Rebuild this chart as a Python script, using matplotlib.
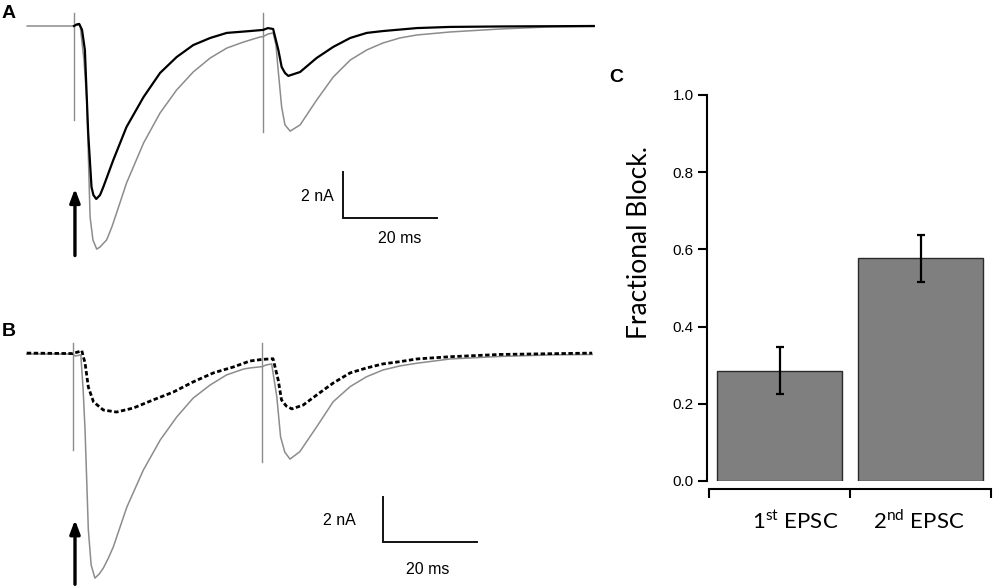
"""Paired-pulse EPSC traces (A, B) and fractional block bar chart (C)."""
import matplotlib
matplotlib.use('Agg')
import matplotlib.pyplot as plt

plt.rcParams['font.family'] = ['Liberation Sans', 'DejaVu Sans']
plt.rcParams['mathtext.fontset'] = 'custom'
plt.rcParams['mathtext.rm'] = 'Lato'

# ---- panel A traces (time in ms, current in nA) ----
a_ctrl_t = [-9.9, -0.2, 0.6, 1.3, 2.1, 2.7, 3.4, 4.0, 4.8, 5.5, 6.9, 8.0, 9.0,
            11.1, 14.7, 18.2, 21.7, 25.2, 28.8, 32.3, 35.8, 39.3, 40.0, 41.0,
            42.1, 42.7, 43.1, 43.9, 44.6, 45.7, 47.8, 51.3, 54.8, 58.4, 61.9,
            65.3, 68.9, 72.5, 79.5, 90.1, 100.6, 109.9]
a_ctrl_i = [0.0, 0.0, 0.04, 0.04, -1.48, -3.22, -8.30, -9.30, -9.70, -9.61,
            -9.30, -8.74, -8.13, -6.83, -5.09, -3.78, -2.78, -2.00, -1.39,
            -0.96, -0.70, -0.48, -0.46, -0.35, -0.30, -0.83, -1.78, -3.52,
            -4.30, -4.57, -4.30, -3.22, -2.22, -1.48, -1.04, -0.74, -0.52,
            -0.39, -0.26, -0.13, -0.04, -0.02]
a_drug_t = [0.0, 0.6, 1.1, 1.7, 2.3, 3.0, 3.7, 4.1, 4.7, 5.5, 6.2, 8.3, 11.1,
            14.7, 18.2, 21.7, 25.2, 28.8, 32.3, 37.2, 40.0, 41.0, 42.1, 43.2,
            43.9, 44.6, 45.3, 47.8, 51.3, 54.8, 58.4, 61.9, 65.3, 72.5, 79.5,
            90.1, 109.9]
a_drug_i = [0.0, 0.07, 0.09, -0.17, -1.04, -4.65, -7.00, -7.35, -7.52, -7.35,
            -7.00, -5.83, -4.39, -3.09, -2.04, -1.35, -0.83, -0.52, -0.30,
            -0.22, -0.17, -0.09, -0.13, -1.04, -1.78, -2.04, -2.17, -2.00,
            -1.39, -0.91, -0.52, -0.30, -0.22, -0.09, -0.04, -0.02, 0.0]

# ---- panel B traces ----
b_ctrl_t = [-9.9, -0.1, 0.4, 1.6, 2.1, 2.5, 3.2, 3.8, 4.6, 5.5, 6.4, 7.4, 8.5,
            11.4, 14.9, 18.5, 22.0, 25.5, 29.1, 32.6, 36.2, 37.6, 40.2, 41.0,
            42.2, 43.3, 44.1, 45.0, 46.1, 48.2, 51.8, 55.3, 58.9, 62.4, 65.9,
            69.5, 73.1, 80.2, 90.8, 101.4, 110.4]
b_ctrl_i = [0.0, 0.0, -0.09, -0.04, -1.60, -3.38, -7.82, -9.38, -9.96, -9.78,
            -9.51, -9.10, -8.58, -6.80, -5.16, -3.82, -2.80, -1.96, -1.38,
            -0.93, -0.67, -0.62, -0.56, -0.49, -0.44, -1.90, -3.68, -4.36,
            -4.67, -4.34, -3.23, -2.12, -1.45, -1.01, -0.71, -0.53, -0.41,
            -0.22, -0.11, -0.04, -0.02]
b_drug_t = [-9.9, -0.1, 1.0, 1.8, 2.5, 3.2, 4.3, 6.4, 9.2, 12.8, 17.0, 21.3,
            25.5, 29.8, 34.0, 37.6, 40.2, 42.5, 43.6, 44.3, 45.3, 46.5, 48.9,
            51.8, 55.3, 58.9, 62.4, 65.9, 69.5, 73.1, 80.2, 90.8, 110.4]
b_drug_i = [0.04, 0.02, 0.09, 0.15, -0.40, -1.47, -2.13, -2.49, -2.58, -2.40,
            -2.04, -1.69, -1.24, -0.84, -0.58, -0.31, -0.24, -0.21, -1.16,
            -2.04, -2.31, -2.44, -2.27, -1.82, -1.29, -0.84, -0.62, -0.44,
            -0.34, -0.22, -0.12, -0.02, 0.04]

# stimulus artifacts: time, top, bottom (nA)
a_stim = [(0.0, 0.57, -4.09), (40.0, 0.57, -4.61)]
b_stim = [(0.0, 0.50, -4.27), (40.2, 0.50, -4.79)]

# ---- panel C ----
categories = ['1$^{\\mathrm{st}}$ EPSC', '2$^{\\mathrm{nd}}$ EPSC']
block_mean = [0.286, 0.577]
block_err = [0.061, 0.061]

W, H = 1000, 587
GREY = '#8c8c8c'


def trace_axes(fig, box, x0, px_ms, y0, px_na):
    """Axes whose data units are ms / nA, placed by a pixel box (l, t, r, b)."""
    l, t, r, b = box
    ax = fig.add_axes([l / W, 1 - b / H, (r - l) / W, (b - t) / H])
    ax.set_xlim((l - x0) / px_ms, (r - x0) / px_ms)
    ax.set_ylim(-(b - y0) / px_na, -(t - y0) / px_na)
    ax.axis('off')
    return ax


def scale_bar(ax, t0, i0, nA_x, nA_y, ms_x, ms_y):
    ax.plot([t0, t0, t0 + 20], [i0 + 2, i0, i0], color='#111111', lw=1.4,
            solid_joinstyle='miter')
    ax.text(nA_x, nA_y, '2 nA', ha='right', va='center', fontsize=11.5)
    ax.text(ms_x, ms_y, '20 ms', ha='center', va='center', fontsize=11.5)


def stim_arrow(ax, t, tip, base):
    ax.annotate('', xy=(t, tip), xytext=(t, base), annotation_clip=False,
                arrowprops=dict(arrowstyle='-|>,head_length=0.8,head_width=0.3',
                                color='black', lw=2.4))


fig = plt.figure(figsize=(W / 100, H / 100), dpi=100)

# panel A
ax_a = trace_axes(fig, (10, 0, 610, 270), 74, 4.73, 26, 23)
for t, top, bot in a_stim:
    ax_a.plot([t, t], [top, bot], color=GREY, lw=1.0)
ax_a.plot(a_ctrl_t, a_ctrl_i, color=GREY, lw=1.1)
ax_a.plot(a_drug_t, a_drug_i, color='black', lw=1.6)
scale_bar(ax_a, 56.8, -8.35, 55.0, -7.43, 68.9, -9.26)
stim_arrow(ax_a, 0.2, -6.95, -10.1)

# panel B
ax_b = trace_axes(fig, (10, 330, 610, 587), 73.3, 4.7, 354, 22.5)
for t, top, bot in b_stim:
    ax_b.plot([t, t], [top, bot], color=GREY, lw=1.0)
ax_b.plot(b_ctrl_t, b_ctrl_i, color=GREY, lw=1.1)
ax_b.plot(b_drug_t, b_drug_i, color='black', lw=2.0, linestyle=(0, (1.6, 0.9)))
scale_bar(ax_b, 65.8, -8.34, 60.1, -7.38, 75.5, -9.56)
stim_arrow(ax_b, 0.36, -7.25, -10.36)

# panel C
l, t, r, b = 707, 95, 991, 481
ax_c = fig.add_axes([l / W, 1 - b / H, (r - l) / W, (b - t) / H])
xpos = list(range(len(categories)))
ax_c.bar(xpos, block_mean, width=0.887, color='#7f7f7f', edgecolor='#2b2b2b',
         linewidth=1.0, zorder=2)
ax_c.errorbar(xpos, block_mean, yerr=block_err, fmt='none', ecolor='black',
              elinewidth=1.6, capsize=3.2, capthick=1.6, zorder=3)
ax_c.set_xlim(-0.515, 1.5)
ax_c.set_ylim(0, 1.0)
ax_c.spines['top'].set_visible(False)
ax_c.spines['right'].set_visible(False)
ax_c.spines['bottom'].set_position(('outward', 6))
ax_c.spines['bottom'].set_bounds(-0.5, 1.5)
for s in ('left', 'bottom'):
    ax_c.spines[s].set_linewidth(1.5)
ax_c.set_yticks([0.0, 0.2, 0.4, 0.6, 0.8, 1.0])
ax_c.set_yticklabels(['0.0', '0.2', '0.4', '0.6', '0.8', '1.0'])
ax_c.set_xticks([-0.5, 0.5, 1.5])
ax_c.set_xticklabels([])
ax_c.tick_params(axis='both', direction='out', length=6.5, width=1.5,
                 labelsize=11, pad=3)
for x, lab, dx in zip(xpos, categories, [0.11, -0.01]):
    ax_c.annotate(lab, xy=(x + dx, 0), xycoords=('data', 'axes fraction'),
                  xytext=(0, -29), textcoords='offset points',
                  ha='center', va='center', fontsize=16, family='Lato')
ax_c.set_ylabel('Fractional Block.', family='Lato', fontsize=19)
ax_c.yaxis.set_label_coords(-0.195, 0.617)

# panel letters
for txt, x, y in [('A', 2, 14), ('B', 2, 331), ('C', 609, 77)]:
    fig.text(x / W, 1 - y / H, txt, fontsize=14, fontweight='bold',
             ha='left', va='center')

fig.savefig('out.png', dpi=100)
